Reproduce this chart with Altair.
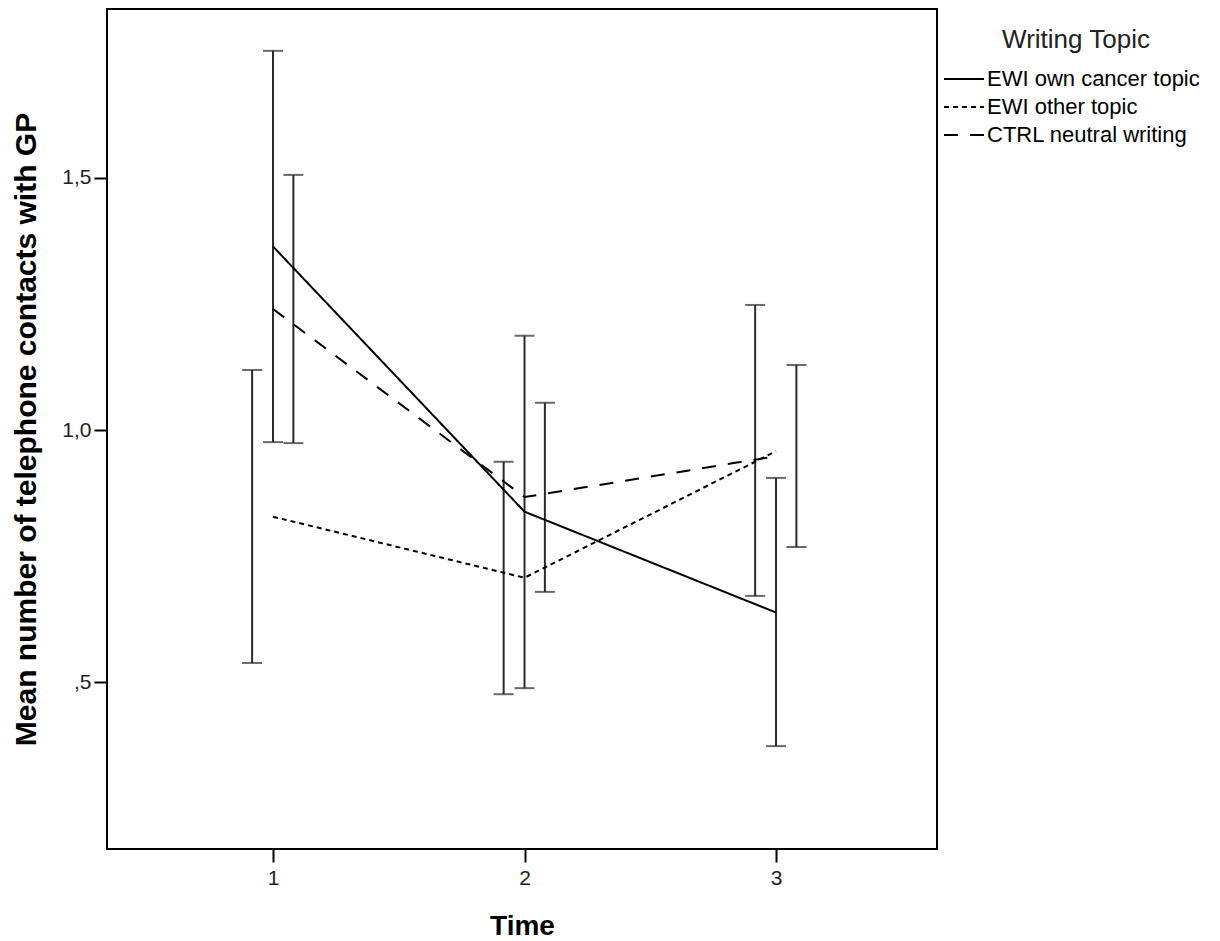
import altair as alt
import pandas as pd

# ---- data ----
times = [1, 2, 3]
groups = ["EWI own cancer topic", "EWI other topic", "CTRL neutral writing"]
mean_own = [1.364, 0.838, 0.638]
low_own = [0.976, 0.488, 0.373]
high_own = [1.752, 1.187, 0.905]
mean_other = [0.828, 0.707, 0.958]
low_other = [0.538, 0.476, 0.671]
high_other = [1.119, 0.937, 1.248]
mean_ctrl = [1.240, 0.867, 0.948]
low_ctrl = [0.974, 0.679, 0.768]
high_ctrl = [1.506, 1.054, 1.129]

# ---- style (dodge of the error bars, dash patterns) ----
dodge = {groups[0]: 0.0, groups[1]: -0.083, groups[2]: 0.081}
dashes = [[1, 0], [5, 4], [14, 12]]
FONT = "Liberation Sans"

rows = []
for g, m, lo, hi in [
    (groups[0], mean_own, low_own, high_own),
    (groups[1], mean_other, low_other, high_other),
    (groups[2], mean_ctrl, low_ctrl, high_ctrl),
]:
    for t, mv, l, h in zip(times, m, lo, hi):
        rows.append({"time": t, "group": g, "mean": mv, "low": l, "high": h,
                     "xbar": t + dodge[g]})
df = pd.DataFrame(rows)

xscale = alt.Scale(domain=[0.34, 3.64], nice=False, zero=False)
yscale = alt.Scale(domain=[0.169, 1.835], nice=False, zero=False)

base = alt.Chart(df)

lines = base.mark_line(color="black", strokeWidth=2).encode(
    x=alt.X("time:Q", scale=xscale,
            axis=alt.Axis(values=times, format="d", title="Time")),
    y=alt.Y("mean:Q", scale=yscale,
            axis=alt.Axis(values=[0.5, 1.0, 1.5],
                          labelExpr="replace(replace(format(datum.value, '.1f'), '.', ','), '0,', ',')",
                          title="Mean number of telephone contacts with GP")),
    strokeDash=alt.StrokeDash(
        "group:N",
        scale=alt.Scale(domain=groups, range=dashes),
        legend=alt.Legend(
            title="Writing Topic", orient="none", legendX=846, legendY=18,
            symbolType="M-2,0H2", symbolSize=400, symbolStrokeWidth=2,
            symbolStrokeColor="black", symbolFillColor="transparent",
            labelOffset=12, titleAnchor="middle", titlePadding=15,
            rowPadding=6, padding=0,
        ),
    ),
    detail="group:N",
    order="time:Q",
)

bars = base.mark_rule(color="#2a2a2a", strokeWidth=2).encode(
    x=alt.X("xbar:Q", scale=xscale),
    y=alt.Y("low:Q", scale=yscale),
    y2="high:Q",
)

caps_lo = base.mark_tick(color="#2a2a2a", orient="horizontal", size=20, thickness=2).encode(
    x=alt.X("xbar:Q", scale=xscale),
    y=alt.Y("low:Q", scale=yscale),
)
caps_hi = base.mark_tick(color="#2a2a2a", orient="horizontal", size=20, thickness=2).encode(
    x=alt.X("xbar:Q", scale=xscale),
    y=alt.Y("high:Q", scale=yscale),
)

chart = (
    alt.layer(bars, caps_lo, caps_hi, lines)
    .properties(
        width=830, height=840,
        autosize=alt.AutoSizeParams(type="none"),
        padding={"left": 99, "top": 1, "right": 275, "bottom": 92},
    )
    .configure_view(stroke="black", strokeWidth=2)
    .configure_axis(
        domain=False, grid=False,
        tickColor="black", tickWidth=2, tickSize=13,
        labelFont=FONT, labelFontSize=21, labelColor="#222",
        labelPadding=3,
        titleFont=FONT, titleFontWeight="bold", titleColor="black",
    )
    .configure_axisY(titleFontSize=30, titlePadding=20)
    .configure_axisX(titleFontSize=28, titlePadding=24, labelPadding=5)
    .configure_legend(
        titleFont=FONT, titleFontSize=26, titleFontWeight="normal", titleColor="#222",
        labelFont=FONT, labelFontSize=22, labelColor="black", labelLimit=400,
    )
)

chart.save("out.html", embed_options={"renderer": "svg", "actions": False})
